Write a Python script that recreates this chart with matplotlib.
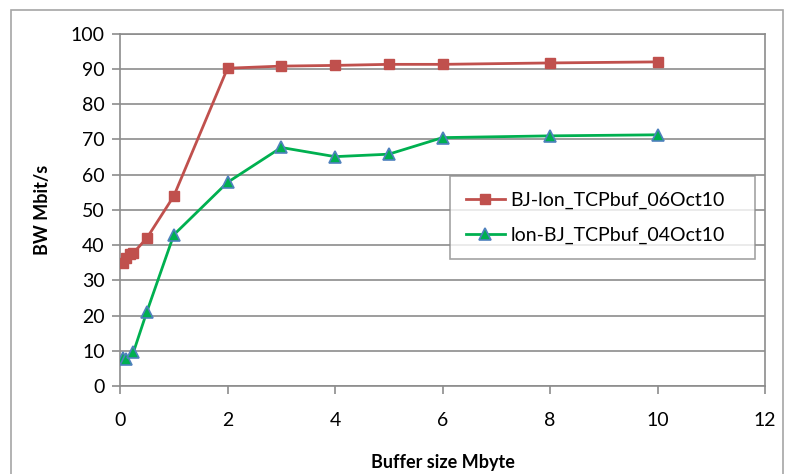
import matplotlib
matplotlib.use('Agg')
import matplotlib.pyplot as plt
from matplotlib.patches import Rectangle

plt.rcParams['font.family'] = ['Lato', 'DejaVu Sans']

# data
bj_lon_x = [0.06, 0.12, 0.19, 0.25, 0.5, 1, 2, 3, 4, 5, 6, 8, 10]
bj_lon_bw = [35.0, 36.3, 37.5, 37.8, 42.0, 53.9, 90.2, 90.8, 91.0, 91.3, 91.3, 91.7, 92.0]
lon_bj_x = [0.06, 0.12, 0.25, 0.5, 1, 2, 3, 4, 5, 6, 8, 10]
lon_bj_bw = [8.0, 7.6, 9.6, 21.1, 42.9, 57.8, 67.7, 65.1, 65.8, 70.5, 71.0, 71.3]
labels = ['BJ-lon_TCPbuf_06Oct10', 'lon-BJ_TCPbuf_04Oct10']

grey = '#8c8c8c'
red = '#C0504D'
green = '#00B050'
blue = '#4F81BD'

fig = plt.figure(figsize=(7.86, 4.74), dpi=100)
ax = fig.add_axes([0.1527, 0.1857, 0.8206, 0.7432])

# outer chart border
fig.patches.append(Rectangle((11 / 786, -0.05), 772 / 786, 1 - 10 / 474 + 0.05,
                             transform=fig.transFigure, fill=False,
                             edgecolor='#a6a6a6', linewidth=1.2))

ax.plot(bj_lon_x, bj_lon_bw, color=red, linewidth=2, marker='s', markersize=7.5,
        markerfacecolor=red, markeredgecolor=red, label=labels[0], zorder=3)
ax.plot(lon_bj_x, lon_bj_bw, color=green, linewidth=2, marker='^', markersize=8,
        markerfacecolor=green, markeredgecolor=blue, markeredgewidth=1.2,
        label=labels[1], zorder=3)

ax.set_xlim(0, 12)
ax.set_ylim(0, 100)
ax.set_xticks(range(0, 13, 2))
ax.set_yticks(range(0, 101, 10))
ax.grid(axis='y', color=grey, linewidth=1.2, zorder=0)
for s in ax.spines.values():
    s.set_color(grey)
    s.set_linewidth(1.2)
ax.tick_params(axis='both', colors=grey, labelcolor='black', labelsize=14,
               length=6, width=1.2)
ax.tick_params(axis='x', pad=13)
ax.tick_params(axis='y', pad=5)

ax.set_xlabel('Buffer size Mbyte', fontsize=13, fontweight='bold', labelpad=18)
ax.set_ylabel('BW Mbit/s', fontsize=13, fontweight='bold', labelpad=14)

leg = ax.legend(loc='lower left', bbox_to_anchor=(0.512, 0.36, 0.472, 0.25),
                mode='expand', borderaxespad=0, fontsize=14, frameon=True,
                fancybox=False, borderpad=0.8, labelspacing=0.9,
                handlelength=2.0, handletextpad=0.3)
leg.get_frame().set_edgecolor(grey)
leg.get_frame().set_linewidth(1.2)

plt.savefig('out.png', dpi=100)
